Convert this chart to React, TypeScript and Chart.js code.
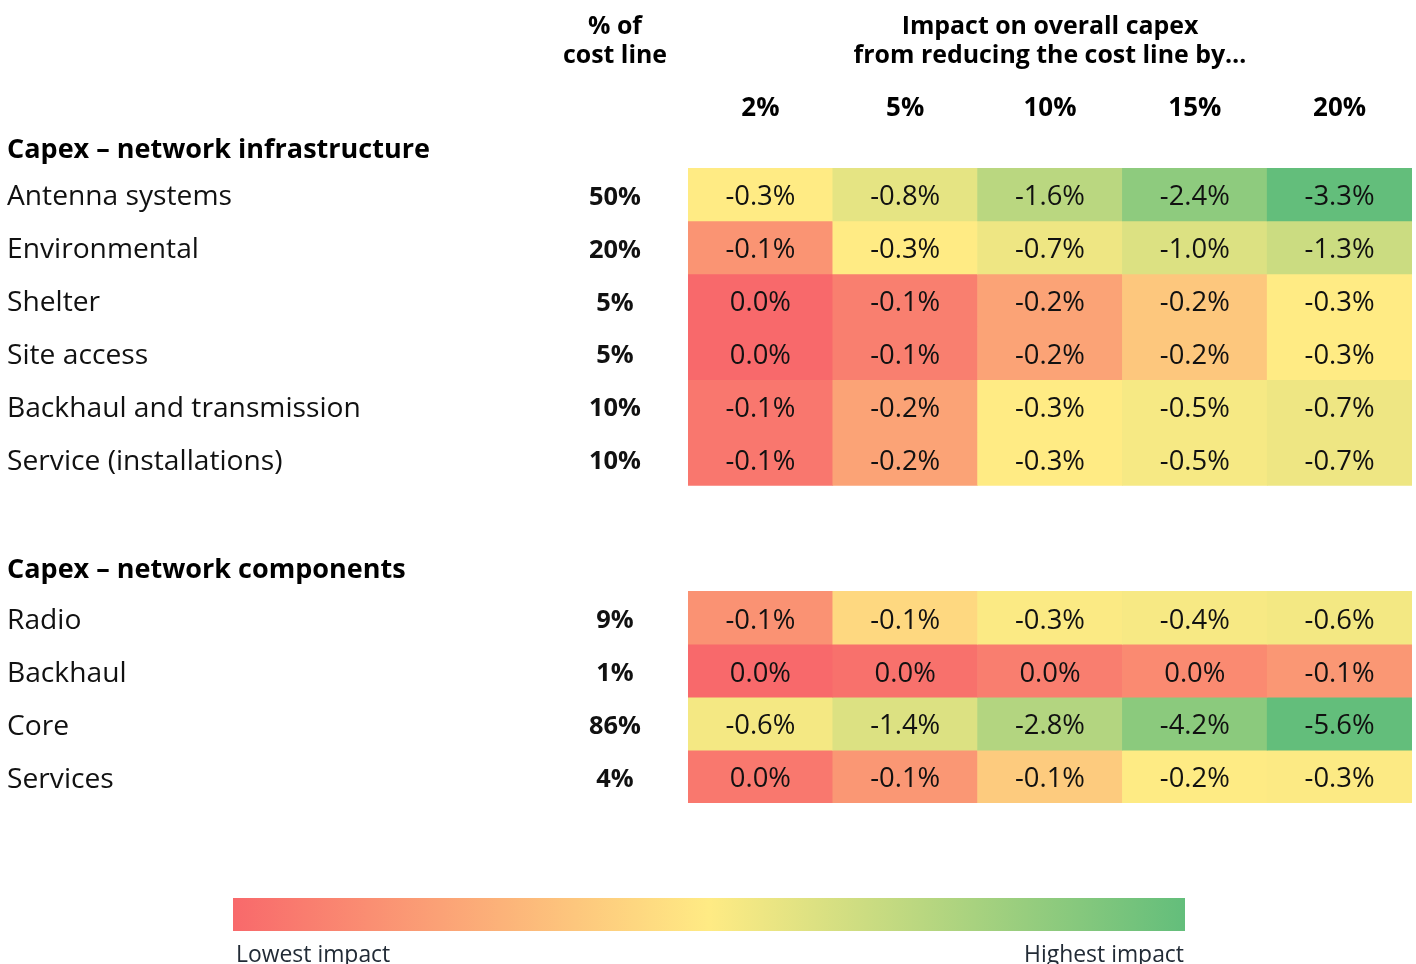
import React, { useEffect, useRef } from "react";
import { Chart, registerables } from "chart.js";
Chart.register(...registerables);

// ---------- data ----------
const reductionLabels = ["2%", "5%", "10%", "15%", "20%"];
const reductionPct = [2, 5, 10, 15, 20];

const shareHeader = ["% of", "cost line"];
const impactHeader = ["Impact on overall capex", "from reducing the cost line by…"];

const infraTitle = "Capex – network infrastructure";
const infraRows = [
  "Antenna systems",
  "Environmental",
  "Shelter",
  "Site access",
  "Backhaul and transmission",
  "Service (installations)",
];
const infraShare = [50, 20, 5, 5, 10, 10];
const infraImpact = [
  [-0.3, -0.8, -1.6, -2.4, -3.3],
  [-0.1, -0.3, -0.7, -1.0, -1.3],
  [0.0, -0.1, -0.2, -0.2, -0.3],
  [0.0, -0.1, -0.2, -0.2, -0.3],
  [-0.1, -0.2, -0.3, -0.5, -0.7],
  [-0.1, -0.2, -0.3, -0.5, -0.7],
];

const compTitle = "Capex – network components";
const compRows = ["Radio", "Backhaul", "Core", "Services"];
const compShare = [9, 1, 86, 4];
const compImpact = [
  [-0.1, -0.1, -0.3, -0.4, -0.6],
  [0.0, 0.0, 0.0, 0.0, -0.1],
  [-0.6, -1.4, -2.8, -4.2, -5.6],
  [0.0, -0.1, -0.1, -0.2, -0.3],
];

const legendLow = "Lowest impact";
const legendHigh = "Highest impact";

// ---------- colour scale (3-colour scale: min / median / max) ----------
const LOW = [248, 105, 107];
const MID = [255, 235, 132];
const HIGH = [99, 190, 123];

function mix(a: number[], b: number[], t: number) {
  const c = a.map((v, i) => Math.round(v + (b[i] - v) * t));
  return `rgb(${c[0]},${c[1]},${c[2]})`;
}

function colourScale(shares: number[]) {
  const w: number[][] = shares.map((s) => reductionPct.map((r) => s * r));
  const flat = w.flat().sort((a, b) => a - b);
  const n = flat.length;
  const min = flat[0];
  const max = flat[n - 1];
  const pos = 0.5 * (n - 1);
  const lo = Math.floor(pos);
  const med = flat[lo] + (flat[Math.min(lo + 1, n - 1)] - flat[lo]) * (pos - lo);
  return w.map((row) =>
    row.map((v) => {
      if (v <= med) return mix(LOW, MID, med === min ? 1 : (v - min) / (med - min));
      return mix(MID, HIGH, (v - med) / (max - med));
    })
  );
}

function fmt(v: number) {
  if (Math.abs(v) < 1e-9) return "0.0%";
  return v.toFixed(1) + "%";
}

const FAMILY = "'Open Sans', 'Noto Sans', sans-serif";
const DY = 3; // baseline nudge for vertical centring

function fit(ctx: CanvasRenderingContext2D, text: string, target: number, weight: string) {
  ctx.font = `${weight} 100px ${FAMILY}`;
  const w = ctx.measureText(text).width;
  return (100 * target) / w;
}

export default function App() {
  const ref = useRef<HTMLCanvasElement>(null);

  useEffect(() => {
    const canvas = ref.current!;
    const infraColours = colourScale(infraShare);
    const compColours = colourScale(compShare);

    // rows: infra 0..5, gap, components 8..11
    const compStart = infraRows.length + 2;
    const totalRows = compStart + compRows.length;

    type RowInfo = { label: string; share: number; values: number[]; colours: string[]; row: number };
    const rows: RowInfo[] = [
      ...infraRows.map((label, i) => ({
        label,
        share: infraShare[i],
        values: infraImpact[i],
        colours: infraColours[i],
        row: i,
      })),
      ...compRows.map((label, i) => ({
        label,
        share: compShare[i],
        values: compImpact[i],
        colours: compColours[i],
        row: compStart + i,
      })),
    ];

    const datasets = rows.map((r) => ({
      label: r.label,
      data: r.values.map(() => [r.row, r.row + 1] as [number, number]),
      backgroundColor: r.colours,
      borderWidth: 0,
      categoryPercentage: 1,
      barPercentage: 1,
    }));

    const textPlugin = {
      id: "heatText",
      afterDatasetsDraw(chart: any) {
        const ctx: CanvasRenderingContext2D = chart.ctx;
        const yScale = chart.scales.y;
        const xScale = chart.scales.x;
        ctx.save();
        const rowSize = fit(ctx, "Backhaul and transmission", 354, "400");
        const titleSize = fit(ctx, infraTitle, 423, "700");
        const cellSize = fit(ctx, "-0.3%", 70, "400");
        const shareSize = fit(ctx, "50%", 52, "700");
        const colSize = fit(ctx, "10%", 53, "700");
        const headSize = fit(ctx, impactHeader[1], 393, "700");
        const legSize = fit(ctx, legendHigh, 160, "400");

        ctx.textBaseline = "middle";
        // cell values
        ctx.fillStyle = "#111";
        ctx.textAlign = "center";
        ctx.font = `400 ${cellSize}px ${FAMILY}`;
        rows.forEach((r, di) => {
          const meta = chart.getDatasetMeta(di);
          meta.data.forEach((el: any, j: number) => {
            const cy = (el.y + el.base) / 2;
            ctx.fillText(fmt(r.values[j]), el.x, cy + DY);
          });
        });

        // row labels & shares
        const shareX = 615;
        rows.forEach((r) => {
          const cy = yScale.getPixelForValue(r.row + 0.5) + DY;
          ctx.fillStyle = "#111";
          ctx.textAlign = "left";
          ctx.font = `400 ${rowSize}px ${FAMILY}`;
          ctx.fillText(r.label, 7, cy);
          ctx.textAlign = "center";
          ctx.font = `700 ${shareSize}px ${FAMILY}`;
          ctx.fillText(r.share + "%", shareX, cy);
        });

        // section titles
        ctx.fillStyle = "#000";
        ctx.textAlign = "left";
        ctx.font = `700 ${titleSize}px ${FAMILY}`;
        ctx.fillText(infraTitle, 7, yScale.getPixelForValue(0) - 21 + DY);
        ctx.fillText(compTitle, 7, yScale.getPixelForValue(compStart) - 24 + DY);

        // column headers
        ctx.textAlign = "center";
        ctx.font = `700 ${colSize}px ${FAMILY}`;
        reductionLabels.forEach((lab, j) => {
          ctx.fillText(lab, xScale.getPixelForValue(j), 106 + DY);
        });

        // top headers
        ctx.font = `700 ${headSize}px ${FAMILY}`;
        ctx.fillText(shareHeader[0], shareX, 25 + DY - 1);
        ctx.fillText(shareHeader[1], shareX, 54 + DY - 1);
        const midX = (xScale.getPixelForValue(0) + xScale.getPixelForValue(reductionLabels.length - 1)) / 2;
        ctx.fillText(impactHeader[0], midX, 25 + DY - 1);
        ctx.fillText(impactHeader[1], midX, 54 + DY - 1);

        // colour legend
        const lx0 = 233, lx1 = 1185, ly0 = 898, ly1 = 931;
        const g = ctx.createLinearGradient(lx0, 0, lx1, 0);
        g.addColorStop(0, `rgb(${LOW.join(",")})`);
        g.addColorStop(0.5, `rgb(${MID.join(",")})`);
        g.addColorStop(1, `rgb(${HIGH.join(",")})`);
        ctx.fillStyle = g;
        ctx.fillRect(lx0, ly0, lx1 - lx0, ly1 - ly0);
        ctx.fillStyle = "#222b36";
        ctx.font = `400 ${legSize}px ${FAMILY}`;
        ctx.textAlign = "left";
        ctx.fillText(legendLow, lx0 + 3, 953 + 2);
        ctx.textAlign = "right";
        ctx.fillText(legendHigh, lx1 - 1, 953 + 2);
        ctx.restore();
      },
    };

    const chart = new Chart(canvas, {
      type: "bar",
      data: { labels: reductionLabels, datasets: datasets as any },
      options: {
        responsive: false,
        animation: false,
        events: [],
        layout: { padding: { left: 688, right: 4, top: 168, bottom: 161 } },
        plugins: { legend: { display: false }, tooltip: { enabled: false } },
        scales: {
          x: { type: "category", stacked: true, display: false, offset: true, grid: { display: false } },
          y: { type: "linear", min: 0, max: totalRows, reverse: true, display: false, stacked: false },
        },
      },
      plugins: [textPlugin],
    });
    return () => chart.destroy();
  }, []);

  return (
    <div style={{ position: "absolute", left: 0, top: 0, width: 1416, height: 964, background: "#fff" }}>
      <canvas ref={ref} width={1416} height={964} style={{ display: "block", width: 1416, height: 964 }} />
    </div>
  );
}
